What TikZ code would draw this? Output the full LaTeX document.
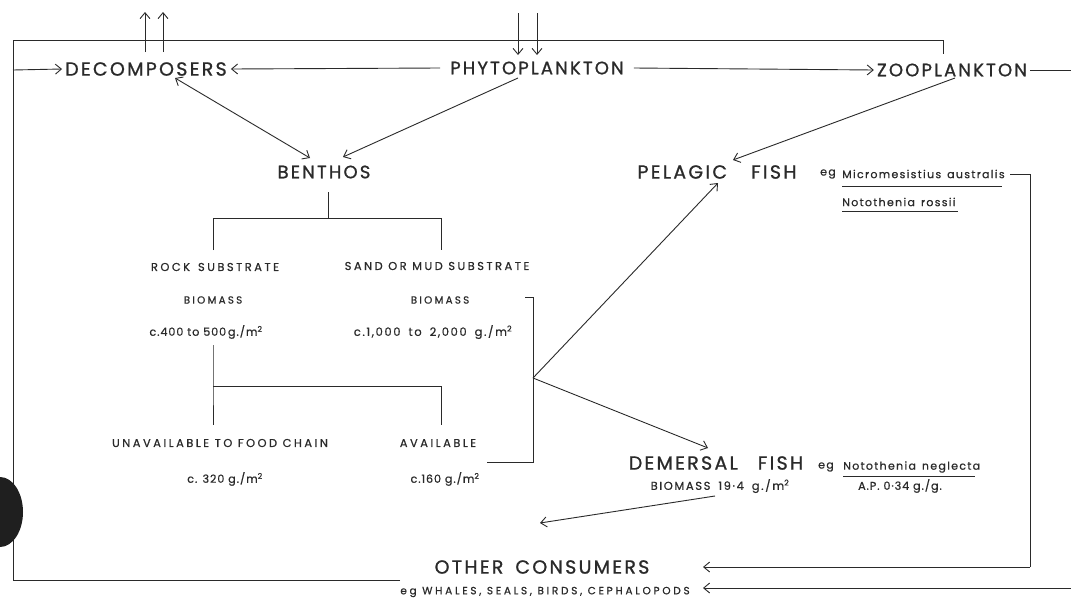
\documentclass[tikz,border=0pt]{standalone}
\usepackage{fontspec}
\usetikzlibrary{arrows.meta}
\newfontfamily\lfbig[LetterSpace=12,FakeBold=1]{Poppins}
\newfontfamily\lfmed[LetterSpace=22,FakeBold=0.6]{Poppins}
\newfontfamily\lfval[LetterSpace=8,FakeBold=0.6]{Poppins}
\newfontfamily\lfwide[LetterSpace=14,FakeBold=0.6]{Poppins}
\newfontfamily\lfsp[LetterSpace=12,FakeBold=0.6]{Poppins}
\newfontfamily\lfeg[LetterSpace=26,FakeBold=0.6]{Poppins}
\definecolor{ink}{HTML}{2A2A2A}
\begin{document}
\begin{tikzpicture}[x=1pt,y=-1pt,
  ln/.style={draw=ink, line width=0.9pt},
  arr/.style={ln, -{Straight Barb[length=6pt,width=10pt]}},
  darr/.style={ln, {Straight Barb[length=6pt,width=10pt]}-{Straight Barb[length=6pt,width=10pt]}},
  big/.style={inner sep=0pt, text=ink, font=\fontsize{18}{18}\lfbig},
  bigger/.style={inner sep=0pt, text=ink, font=\fontsize{19}{19}\lfbig},
  med/.style={inner sep=0pt, text=ink, font=\fontsize{11.4}{12}\lfmed},
  bio/.style={inner sep=0pt, text=ink, font=\fontsize{10.3}{12}\lfmed},
  val/.style={inner sep=0pt, text=ink, font=\fontsize{11.2}{12}\lfval},
  valw/.style={inner sep=0pt, text=ink, font=\fontsize{11.5}{12}\lfwide},
  sp/.style={inner sep=0pt, text=ink, font=\fontsize{11}{12}\lfsp},
  smc/.style={inner sep=0pt, text=ink, font=\fontsize{10.5}{12}\lfeg}]
\useasboundingbox[fill=white] (0,0) rectangle (1071,600);

% nodes
\node[bigger] (dec) at (146,69) {DECOMPOSERS};
\node[big] (phy) at (537,68) {PHYTOPLANKTON};
\node[big] (zoo) at (952,70) {ZOOPLANKTON};
\node[big] (ben) at (324,172) {BENTHOS};
\node[bigger] (pel) at (717,172) {PELAGIC\hspace{24pt}FISH};
\node[bigger] (dem) at (716,463) {DEMERSAL\hspace{20pt}FISH};
\node[bigger] (oth) at (542,567) {OTHER\hspace{12pt}CONSUMERS};
\node[smc] (othsp) at (545,592) {eg WHALES, SEALS, BIRDS, CEPHALOPODS};
\node[med] (rock) at (215,267) {ROCK\hspace{8pt}SUBSTRATE};
\node[med] (sand) at (437,266) {SAND OR MUD SUBSTRATE};
\node[bio] (bio1) at (213,300) {BIOMASS};
\node[bio] (bio2) at (440,300) {BIOMASS};
\node[val] (val1) at (206,332) {c.400 to 500\,g./m\textsuperscript{2}};
\node[valw] (val2) at (433,332) {c.1,000\hspace{8pt}to\hspace{8pt}2,000\hspace{8pt}g./m\textsuperscript{2}};
\node[med] (unav) at (220,443) {UNAVAILABLE TO FOOD CHAIN};
\node[med] (avail) at (438,443) {AVAILABLE};
\node[val] (v320) at (225,479) {c. 320 g./m\textsuperscript{2}};
\node[val] (v160) at (445,479) {c.160 g./m\textsuperscript{2}};
\node[sp] (eg1) at (828,174) {eg};
\node[sp, anchor=west] (mic) at (842,174) {Micromesistius\hspace{6pt}australis};
\node[sp, anchor=west] (ros) at (842,202) {Notothenia\hspace{6pt}rossii};
\node[sp] (eg2) at (826,467) {eg};
\node[sp, anchor=west] (neg) at (843,467) {Notothenia\hspace{6pt}neglecta};
\node[val] (ap) at (900,486) {A.P. 0·34 g./g.};
\node[valw] (dbio) at (720,486) {BIOMASS\hspace{8pt}19·4\hspace{8pt}g./m\textsuperscript{2}};

% underlines
\draw[ln, line width=0.7pt] (842,186) -- (1002,186);
\draw[ln, line width=0.7pt] (842,211) -- (958,211);
\draw[ln, line width=0.7pt] (843,476) -- (975,476);

% coordinates
\coordinate (tl) at (13,40);
\coordinate (tr) at (943,40);
\coordinate (zootop) at (943,54);
\coordinate (bl) at (13,580);
\coordinate (bend) at (400,580);
\coordinate (lin) at (13,70);
\coordinate (u1a) at (145,52); \coordinate (u1b) at (145,12);
\coordinate (u2a) at (163,52); \coordinate (u2b) at (163,12);
\coordinate (d1a) at (518,13); \coordinate (d1b) at (518,55);
\coordinate (d2a) at (537,13); \coordinate (d2b) at (537,55);
\coordinate (zr) at (1071,70);
\coordinate (bt) at (328,192); \coordinate (bj) at (328,218);
\coordinate (bjl) at (213,218); \coordinate (bjr) at (441,218);
\coordinate (rl) at (213,250); \coordinate (rr) at (441,250);
\coordinate (vt) at (213,345); \coordinate (vj) at (213,386);
\coordinate (vjr) at (441,386);
\coordinate (ul) at (213,425); \coordinate (ur) at (441,425);
\coordinate (brt0) at (525,297); \coordinate (brt) at (533,297);
\coordinate (brb) at (533,462); \coordinate (brb0) at (487,462);
\coordinate (fj) at (533,378);
\coordinate (pb0) at (1010,174); \coordinate (pb1) at (1030,174);
\coordinate (pb2) at (1030,567);
\coordinate (rb) at (1071,588);
\coordinate (oin) at (703,567);

% frame loop to decomposers
\draw[ln] (bend) -- (bl) -- (tl) -- (tr) -- (zootop);
\draw[arr] (lin) -- ([xshift=-3pt]dec.west);
\draw[arr] (u1a) -- (u1b);
\draw[arr] (u2a) -- (u2b);
\draw[arr] (d1a) -- (d1b);
\draw[arr] (d2a) -- (d2b);

% top row
\draw[arr] ([xshift=-10pt]phy.west) -- ([xshift=4pt]dec.east);
\draw[arr] ([xshift=10pt]phy.east) -- ([xshift=-3pt]zoo.west);
\draw[ln] ([xshift=3pt]zoo.east) -- (zr);

% to benthos / pelagic
\draw[darr] (175,78) -- (310,158);
\draw[arr] (518,78) -- (343,157);
\draw[arr] (955,78) -- (733,160);

% benthos tree
\draw[ln] (bt) -- (bj);
\draw[ln] (rl) -- (bjl) -- (bjr) -- (rr);
\draw[ln] (vt) -- (vj) -- (ul);
\draw[ln] (vj) -- (vjr) -- (ur);
\draw[ln] (brt0) -- (brt) -- (brb) -- (brb0);
\draw[arr] (fj) -- (718,183);
\draw[arr] (fj) -- (708,448);

% consumers
\draw[arr] (715,496) -- (540,523);
\draw[ln] (pb0) -- (pb1) -- (pb2);
\draw[arr] (pb2) -- (oin);
\draw[arr] (rb) -- (oin |- rb);

% scan blob
\fill[black!88] (0,512) ellipse[x radius=23, y radius=35];
\end{tikzpicture}
\end{document}
